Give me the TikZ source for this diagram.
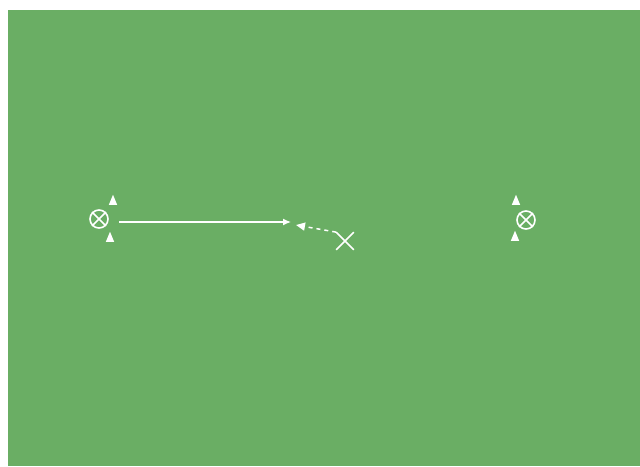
\documentclass[tikz,border=0pt]{standalone}
\usetikzlibrary{arrows.meta,shapes.geometric,shapes.misc}
\definecolor{fieldgreen}{RGB}{106,174,100}
\tikzset{
  player/.style={circle,draw=white,line width=1.6pt,minimum size=18pt,inner sep=0pt},
  cone/.style={isosceles triangle,isosceles triangle apex angle=45,shape border rotate=90,fill=white,
    minimum height=10pt,minimum width=7pt,inner sep=0pt},
  crossmark/.style={cross out,draw=white,line width=1.7pt,minimum size=16pt,inner sep=0pt},
}
\begin{document}
\begin{tikzpicture}[x=1pt,y=-1pt]
  \useasboundingbox (0,0) rectangle (640,466);
  \fill[white] (0,0) rectangle (640,466);
  \fill[fieldgreen] (8,10) rectangle (640,466);
  % left player and cones
  \node[player] (lp) at (99,219) {};
  \draw[white,line width=1.5pt] (lp.north east) -- (lp.south west) (lp.north west) -- (lp.south east);
  \node[cone] (lc1) at (113,202) {};
  \node[cone] (lc2) at (110,239) {};
  % right player and cones
  \node[player] (rp) at (526,220) {};
  \draw[white,line width=1.5pt] (rp.north east) -- (rp.south west) (rp.north west) -- (rp.south east);
  \node[cone] (rc1) at (516,202) {};
  \node[cone] (rc2) at (515,238) {};
  % run and pass
  \node[crossmark] (x) at (345,241) {};
  \coordinate (runstart) at (119,222);
  \coordinate (runend) at (291,222);
  \coordinate (passend) at (296,225);
  \draw[white,line width=1.3pt,-{Latex[length=8pt,width=7pt]}] (runstart) -- (runend);
  \draw[white,line width=1.5pt,dash pattern=on 4pt off 4pt,-{Triangle[length=9pt,width=8pt]}] (x.north west) -- (passend);
\end{tikzpicture}
\end{document}
